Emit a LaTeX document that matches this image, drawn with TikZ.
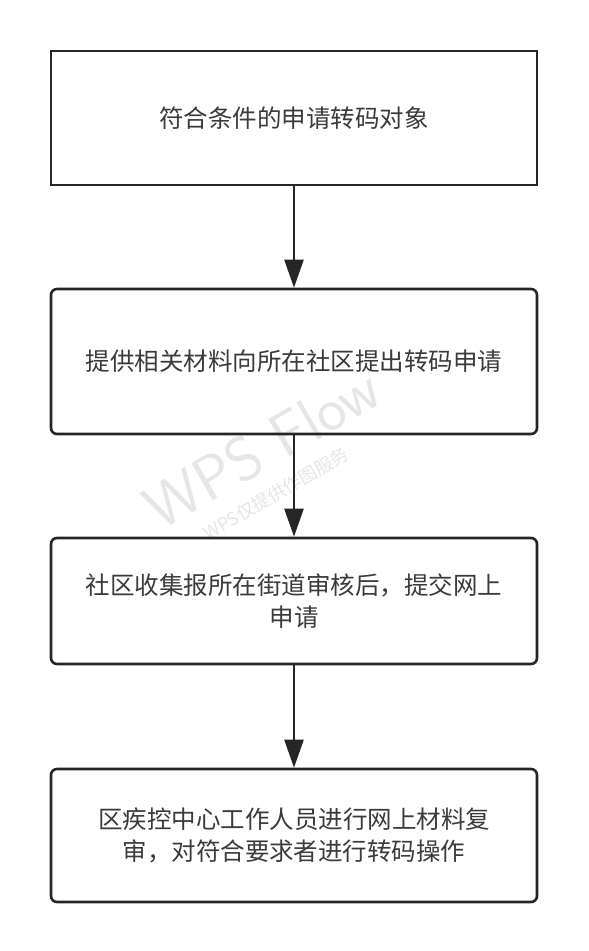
\documentclass[tikz,border=0pt]{standalone}
\usepackage{fontspec}
\newfontfamily\cjk{Noto Sans CJK SC}
\usetikzlibrary{arrows.meta}
\definecolor{linec}{HTML}{262626}
\definecolor{textc}{HTML}{3A3A3A}
\definecolor{wmark}{HTML}{E6E6E6}
\begin{document}
\begin{tikzpicture}[x=1pt,y=-1pt,
  boxbase/.style={draw=linec, line width=2.6pt, minimum width=486pt, inner sep=0pt,
    align=center, text=textc, font=\cjk\fontsize{24.5}{32}\selectfont},
  sqbox/.style={boxbase},
  rbox/.style={boxbase, rounded corners=6pt},
  flowarrow/.style={draw=linec, line width=2.4pt, -{Triangle[length=28pt,width=19pt]}},
  wmtext/.style={text=wmark, rotate=30, inner sep=0pt}]
\useasboundingbox (0,0) rectangle (589,951);
% watermark
\node[wmtext, font=\sffamily\fontsize{62}{62}\selectfont] (wm1) at (262,448) {WPS Flow};
\node[wmtext, font=\cjk\fontsize{18}{18}\selectfont] (wm2) at (276,494) {WPS仅提供作图服务};
% boxes
\node[sqbox, minimum height=134pt] (b1) at (294,118) {符合条件的申请转码对象};
\node[rbox, minimum height=145pt] (b2) at (294,361.5) {提供相关材料向所在社区提出转码申请};
\node[rbox, minimum height=126pt] (b3) at (294,601) {社区收集报所在街道审核后，提交网上\\申请};
\node[rbox, minimum height=133pt] (b4) at (294,835.5) {区疾控中心工作人员进行网上材料复\\审，对符合要求者进行转码操作};
% arrows
\draw[flowarrow] (b1) -- (b2);
\draw[flowarrow] (b2) -- (b3);
\draw[flowarrow] (b3) -- (b4);
\end{tikzpicture}
\end{document}
